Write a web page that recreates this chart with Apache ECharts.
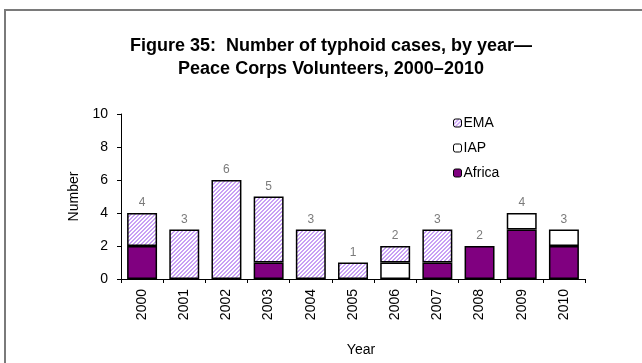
<!DOCTYPE html>
<html>
<head>
<meta charset="utf-8">
<script src="https://cdn.jsdelivr.net/npm/echarts@6/dist/echarts.min.js"></script>
<style>html,body{margin:0;padding:0;background:#fff;}#c{width:642px;height:363px;}</style>
</head>
<body>
<div id="c"></div>
<script>
var years = ['2000','2001','2002','2003','2004','2005','2006','2007','2008','2009','2010'];
var africa = [2,0,0,1,0,0,0,1,2,3,2];
var iap    = [0,0,0,0,0,0,1,0,0,1,1];
var ema    = [2,3,6,4,3,1,1,2,0,0,0];
var yTicks = [0,2,4,6,8,10];
var totals = years.map(function(_, i){ return africa[i] + iap[i] + ema[i]; });
function nz(arr){ return arr.map(function(v){ return v === 0 ? '-' : v; }); }

function hatch(){
  var c = document.createElement('canvas');
  c.width = 4; c.height = 4;
  var ctx = c.getContext('2d');
  ctx.fillStyle = '#ffffff'; ctx.fillRect(0,0,4,4);
  ctx.fillStyle = '#c8a0f5';
  for (var x=0;x<4;x++) for (var y=0;y<4;y++) {
    if (((x+y)%4) < 2) ctx.fillRect(x,y,1,1);
  }
  return c;
}
var font = 'Liberation Sans, Arial, sans-serif';
var chart = echarts.init(document.getElementById('c'));
var border = {borderColor:'#000', borderWidth:1.5};
chart.setOption({
  animation:false,
  backgroundColor:'#fff',
  graphic:[
    {type:'rect', shape:{x:5,y:10,width:700,height:420}, style:{fill:'none', stroke:'#7a7a7a', lineWidth:2}},
    {type:'text', x:331, y:35, style:{text:'Figure 35:  Number of typhoid cases, by year\u2014\nPeace Corps Volunteers, 2000\u20132010', font:'bold 18px '+font, fill:'#000', align:'center', lineHeight:23}}
  ],
  grid:{left:121, right:57, top:114, bottom:84, containLabel:false},
  legend:{
    orient:'vertical', left:448, top:111, itemWidth:8, itemHeight:8, itemGap:11,
    data:['EMA','IAP','Africa'],
    textStyle:{fontFamily:font, fontSize:14, color:'#000', padding:[0,0,0,-3]},
    itemStyle:{borderColor:'#000', borderWidth:1}
  },
  xAxis:{
    type:'category', data:years,
    axisLine:{lineStyle:{color:'#000', width:1}},
    axisTick:{show:true, length:4, lineStyle:{color:'#000'}},
    axisLabel:{rotate:90, margin:10, fontFamily:font, fontSize:14, color:'#000'},
    name:'Year', nameLocation:'middle', nameGap:64,
    nameTextStyle:{fontFamily:font, fontSize:14, color:'#000', padding:[0,0,0,16]}
  },
  yAxis:{
    type:'value', min:0, max:10, interval:2,
    axisLine:{show:true, lineStyle:{color:'#000', width:1}},
    axisTick:{show:true, length:4, lineStyle:{color:'#000'}},
    splitLine:{show:false},
    axisLabel:{margin:13, fontFamily:font, fontSize:14, color:'#000'},
    name:'Number', nameLocation:'middle', nameGap:33,
    nameTextStyle:{fontFamily:font, fontSize:14, color:'#000'}
  },
  series:[
    {name:'Africa', type:'bar', stack:'a', data:nz(africa), barCategoryGap:'29%', itemStyle:Object.assign({color:'#800080'}, border)},
    {name:'IAP', type:'bar', stack:'a', data:nz(iap), itemStyle:Object.assign({color:'#ffffff'}, border)},
    {name:'EMA', type:'bar', stack:'a', data:nz(ema), itemStyle:Object.assign({color:{image:hatch(), repeat:'repeat'}}, border)},
    {name:'total', type:'scatter', data:totals, symbolSize:0, silent:true,
     label:{show:true, position:'top', distance:4, fontFamily:font, fontSize:12, color:'#595959'}}
  ]
});
</script>
</body>
</html>
